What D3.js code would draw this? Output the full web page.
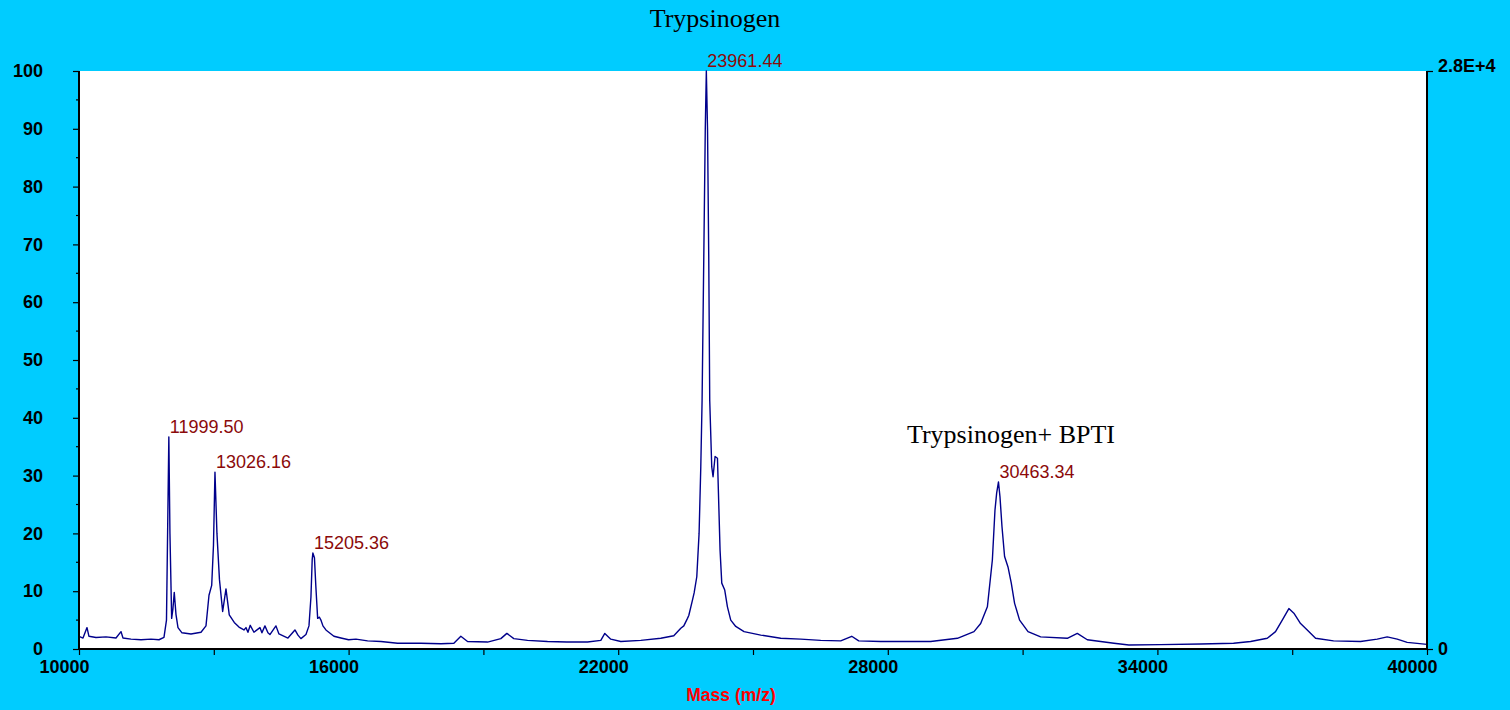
<!DOCTYPE html>
<html>
<head>
<meta charset="utf-8">
<script src="https://cdn.jsdelivr.net/npm/d3@7"></script>
<style>
  html, body { margin: 0; padding: 0; background: #00ccff; overflow: hidden; }
  svg { display: block; }
</style>
</head>
<body>
<div id="chart"></div>
<script>
// spectrum (mass m/z, relative intensity %)
const massValues = [
  10000, 10089, 10178, 10222, 10378, 10601, 10823, 10935, 10979, 11157,
  11380, 11602, 11780, 11891, 11947, 11980, 11999.5, 12024, 12062, 12091,
  12120, 12158, 12203, 12292, 12492, 12715, 12826, 12893, 12953, 12993,
  13026, 13070, 13126, 13197, 13271, 13344, 13455, 13560, 13671, 13716,
  13760, 13811, 13894, 14027, 14071, 14138, 14205, 14249, 14383, 14450,
  14650, 14806, 14873, 14939, 15051, 15118, 15162, 15190, 15205, 15240,
  15270, 15311, 15351, 15384, 15429, 15495, 15673, 15829, 16000, 16163,
  16423, 16719, 17090, 17609, 18054, 18343, 18498, 18647, 19092, 19388,
  19522, 19677, 19982, 20427, 20856, 21317, 21613, 21702, 21835, 22058,
  22503, 22948, 23237, 23393, 23460, 23542, 23571, 23654, 23690, 23749,
  23800, 23838, 23867, 23905, 23938, 23961.44, 23988, 24015, 24037, 24082,
  24111, 24156, 24209, 24231, 24267, 24305, 24371, 24431, 24505, 24616,
  24801, 25173, 25617, 26062, 26507, 26952, 27197, 27353, 27842, 28955,
  29549, 29918, 30067, 30216, 30327, 30385, 30423, 30463.34, 30497, 30541,
  30599, 30675, 30748, 30822, 30933, 31121, 31401, 31995, 32217, 32440,
  33033, 33366, 34071, 34961, 35695, 36074, 36445, 36629, 36779, 36926,
  37037, 37186, 37335, 37520, 37920, 38521, 38892, 39114, 39337, 39559,
  40000
];
const intensityValues = [
  2.2, 1.9, 3.7, 2.2, 2.0, 2.1, 1.9, 3.0, 1.9, 1.7,
  1.6, 1.7, 1.6, 2.0, 5.0, 25, 36.7, 20, 5.3, 7.0,
  9.8, 6.0, 3.7, 2.8, 2.6, 2.9, 4.0, 9.3, 11, 18,
  30.6, 20, 12, 6.5, 10.4, 5.9, 4.6, 3.8, 3.3, 3.7,
  2.9, 4.1, 2.9, 3.7, 2.8, 4.0, 2.8, 2.5, 4.0, 2.6,
  1.9, 3.3, 2.4, 1.8, 2.5, 4.0, 9.0, 15.5, 16.6, 15.8,
  11, 5.3, 5.5, 5.0, 4.0, 3.3, 2.2, 1.9, 1.6, 1.7,
  1.4, 1.3, 1.0, 1.0, 0.9, 1.0, 2.2, 1.3, 1.2, 1.8,
  2.7, 1.8, 1.5, 1.3, 1.2, 1.2, 1.5, 2.7, 1.7, 1.3,
  1.5, 1.85, 2.3, 3.6, 4.0, 5.3, 5.8, 8.5, 9.7, 12.5,
  20, 31.5, 43, 68, 90, 100, 90, 68, 43, 31.5,
  29.8, 33.3, 33, 27, 17.1, 11.4, 10.2, 7.3, 5.0, 3.9,
  3.0, 2.4, 1.85, 1.7, 1.5, 1.4, 2.2, 1.4, 1.3, 1.3,
  1.85, 3.0, 4.4, 7.3, 15.4, 24, 27, 28.9, 26.3, 21.2,
  16, 14.2, 11.4, 7.9, 5.0, 3.0, 2.1, 1.85, 2.7, 1.6,
  1.0, 0.7, 0.75, 0.86, 1.0, 1.3, 1.85, 3.0, 5.0, 7.0,
  6.2, 4.4, 3.3, 1.85, 1.4, 1.3, 1.7, 2.1, 1.7, 1.15,
  0.8
];

// labelled peaks
const peakMasses = [11999.50, 13026.16, 15205.36, 23961.44, 30463.34];
const peakHeights = [36.7, 30.6, 16.6, 100, 28.9];
const peakTexts = ["11999.50", "13026.16", "15205.36", "23961.44", "30463.34"];

const xTickValues = [10000, 13000, 16000, 19000, 22000, 25000, 28000, 31000, 34000, 37000, 40000];
const xTickLabels = [10000, 16000, 22000, 28000, 34000, 40000];
const yTickValues = [0, 10, 20, 30, 40, 50, 60, 70, 80, 90, 100];

const width = 1510, height = 710;
const margin = {top: 71, right: 83, bottom: 61, left: 79};

const svg = d3.select("#chart").append("svg")
    .attr("width", width)
    .attr("height", height);

// background
svg.append("rect")
    .attr("width", width)
    .attr("height", height)
    .attr("fill", "#00ccff");

const x = d3.scaleLinear()
    .domain([10000, 40000])
    .range([margin.left, width - margin.right]);

const y = d3.scaleLinear()
    .domain([0, 100])
    .range([height - margin.bottom, margin.top]);

// plot area
svg.append("rect")
    .attr("x", x(10000))
    .attr("y", y(100))
    .attr("width", x(40000) - x(10000))
    .attr("height", y(0) - y(100))
    .attr("fill", "#ffffff");

// spectrum
const points = massValues.map((m, i) => [m, intensityValues[i]]);
svg.append("path")
    .datum(points)
    .attr("fill", "none")
    .attr("stroke", "#00008b")
    .attr("stroke-width", 1.4)
    .attr("stroke-linejoin", "round")
    .attr("d", d3.line().x(d => x(d[0])).y(d => y(d[1])));

// left axis (major ticks every 10, minor every 5)
const yAxis = svg.append("g")
    .attr("transform", `translate(${margin.left},0)`)
    .call(d3.axisLeft(y).tickValues(yTickValues).tickSize(6).tickFormat(d3.format("d")).tickPadding(32));
yAxis.select(".domain").attr("stroke-width", 2).attr("d", `M0,${y(100)}V${y(0)}`);
yAxis.selectAll(".tick line").attr("stroke-width", 1.2);
yAxis.selectAll(".tick text")
    .attr("text-anchor", "end")
    .attr("x", -36)
    .attr("font-family", "Liberation Sans, Arial, sans-serif")
    .attr("font-size", 18)
    .attr("font-weight", "bold")
    .attr("fill", "#000");

svg.append("g")
    .attr("transform", `translate(${margin.left},0)`)
    .selectAll("line")
    .data(d3.range(5, 100, 10))
    .enter()
    .append("line")
    .attr("x1", -3)
    .attr("x2", 0)
    .attr("y1", d => y(d))
    .attr("y2", d => y(d))
    .attr("stroke", "#000")
    .attr("stroke-width", 1.2);

// bottom axis - labels sit a bit left of their ticks, as in the original
const xAxis = svg.append("g")
    .attr("transform", `translate(0,${y(0)})`)
    .call(d3.axisBottom(x).tickValues(xTickValues).tickSize(6)
        .tickFormat(d => xTickLabels.includes(d) ? d : ""));
xAxis.select(".domain").attr("stroke-width", 2).attr("d", `M${x(10000)},0H${x(40000)}`);
xAxis.selectAll(".tick line").attr("stroke-width", 1.2);
xAxis.selectAll(".tick text")
    .attr("x", -15)
    .attr("y", 11)
    .attr("font-family", "Liberation Sans, Arial, sans-serif")
    .attr("font-size", 18)
    .attr("font-weight", "bold")
    .attr("fill", "#000");

// right axis, absolute counts
const yRight = d3.scaleLinear().domain([0, 28000]).range([y(0), y(100)]);
const rAxis = svg.append("g")
    .attr("transform", `translate(${x(40000)},0)`)
    .call(d3.axisRight(yRight).tickValues([0, 28000]).tickSize(6)
        .tickFormat(d => d === 0 ? "0" : "2.8E+4"));
rAxis.select(".domain").attr("stroke-width", 2).attr("d", `M0,${y(100)}V${y(0)}`);
rAxis.selectAll(".tick line").attr("stroke-width", 1.2);
rAxis.selectAll(".tick text")
    .attr("x", 11)
    .attr("font-family", "Liberation Sans, Arial, sans-serif")
    .attr("font-size", 18)
    .attr("font-weight", "bold")
    .attr("fill", "#000");
rAxis.selectAll(".tick text").filter(d => d === 28000).attr("dy", "0").attr("y", 0);

// peak labels
svg.append("g")
    .selectAll("text")
    .data(peakMasses)
    .enter()
    .append("text")
    .attr("x", d => x(d) + 1)
    .attr("y", (d, i) => y(peakHeights[i]) - 4)
    .attr("font-family", "Liberation Sans, Arial, sans-serif")
    .attr("font-size", 18)
    .attr("fill", "#8b0a0a")
    .text((d, i) => peakTexts[i]);

// annotations
svg.append("text")
    .attr("x", 715)
    .attr("y", 27)
    .attr("text-anchor", "middle")
    .attr("font-family", "Liberation Serif, Times New Roman, serif")
    .attr("font-size", 26)
    .attr("fill", "#000")
    .text("Trypsinogen");

svg.append("text")
    .attr("x", 1011)
    .attr("y", 443)
    .attr("text-anchor", "middle")
    .attr("font-family", "Liberation Serif, Times New Roman, serif")
    .attr("font-size", 26)
    .attr("fill", "#000")
    .text("Trypsinogen+ BPTI");

// axis title
svg.append("text")
    .attr("x", 731)
    .attr("y", 701)
    .attr("text-anchor", "middle")
    .attr("font-family", "Liberation Sans, Arial, sans-serif")
    .attr("font-size", 17.5)
    .attr("font-weight", "bold")
    .attr("fill", "#ff0000")
    .text("Mass (m/z)");
</script>
</body>
</html>
